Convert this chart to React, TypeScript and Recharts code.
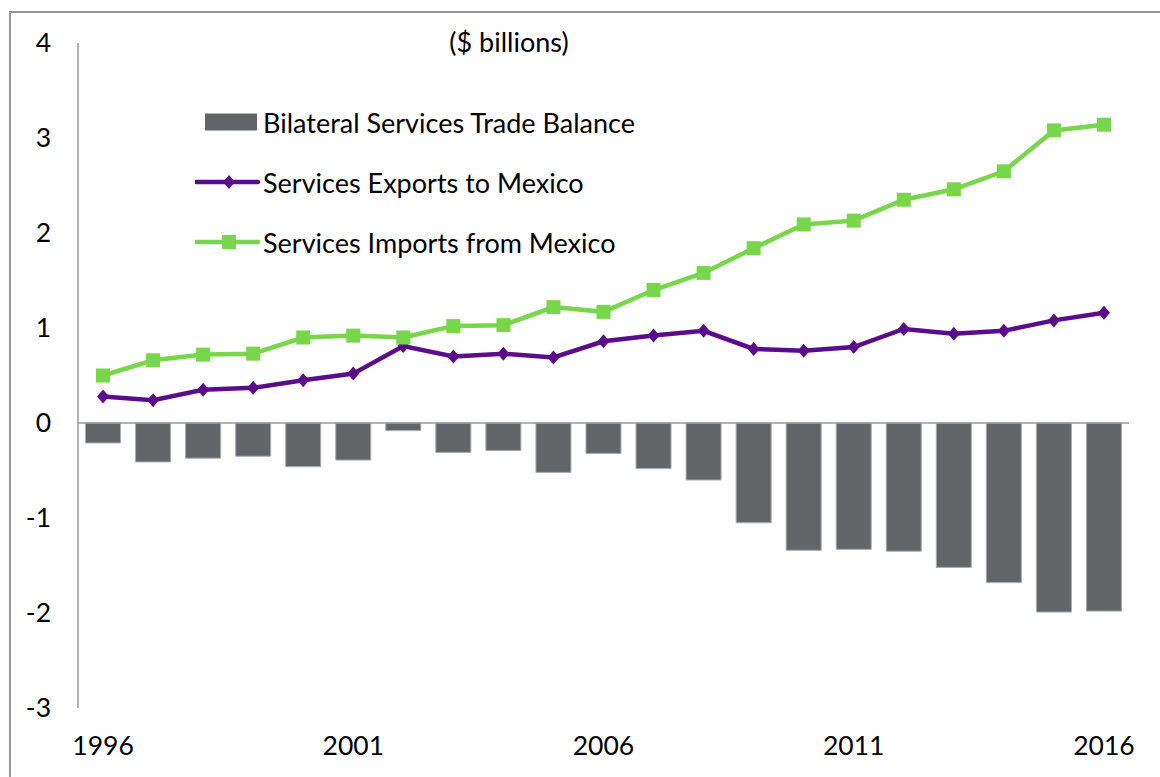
import React from "react";
import {
  ComposedChart,
  Bar,
  Line,
  XAxis,
  YAxis,
  ReferenceLine,
  Legend,
} from "recharts";

const years = [
  "1996", "1997", "1998", "1999", "2000", "2001", "2002", "2003", "2004", "2005",
  "2006", "2007", "2008", "2009", "2010", "2011", "2012", "2013", "2014", "2015", "2016",
];
const balance = [
  -0.21, -0.41, -0.37, -0.35, -0.46, -0.39, -0.08, -0.31, -0.29, -0.52,
  -0.32, -0.48, -0.6, -1.05, -1.34, -1.33, -1.35, -1.52, -1.68, -1.99, -1.98,
];
const exportsToMexico = [
  0.28, 0.24, 0.35, 0.37, 0.45, 0.52, 0.81, 0.7, 0.73, 0.69,
  0.86, 0.92, 0.97, 0.78, 0.76, 0.8, 0.99, 0.94, 0.97, 1.08, 1.16,
];
const importsFromMexico = [
  0.5, 0.66, 0.72, 0.73, 0.9, 0.92, 0.9, 1.02, 1.03, 1.22,
  1.17, 1.4, 1.58, 1.84, 2.09, 2.13, 2.35, 2.46, 2.65, 3.08, 3.14,
];
const yTicks = [-3, -2, -1, 0, 1, 2, 3, 4];

const seriesNames = {
  balance: "Bilateral Services Trade Balance",
  exp: "Services Exports to Mexico",
  imp: "Services Imports from Mexico",
};

const BAR = "#636569";
const PURPLE = "#5b0c8b";
const GREEN = "#78d64b";
const AXIS = "#9a9a9a";
const FONT = "Lato, 'Open Sans', sans-serif";
const AXIS_FS = 26.5;
const TEXT_FS = 27;

const data = years.map((y, i) => ({
  year: y,
  balance: balance[i],
  exp: exportsToMexico[i],
  imp: importsFromMexico[i],
}));

const DiamondDot = (props: any) => {
  const { cx, cy, index } = props;
  if (cx == null || cy == null) return <g key={`d${index}`} />;
  return (
    <path
      key={`d${index}`}
      d={`M${cx},${cy - 7} L${cx + 6},${cy} L${cx},${cy + 7} L${cx - 6},${cy} Z`}
      fill={PURPLE}
    />
  );
};

const SquareDot = (props: any) => {
  const { cx, cy, index } = props;
  if (cx == null || cy == null) return <g key={`s${index}`} />;
  return <rect key={`s${index}`} x={cx - 7} y={cy - 7} width={14} height={14} fill={GREEN} />;
};

const LegendContent = () => {
  const row: React.CSSProperties = {
    display: "flex",
    alignItems: "center",
    height: 60,
    whiteSpace: "nowrap",
  };
  const txt: React.CSSProperties = {
    fontFamily: FONT,
    fontSize: TEXT_FS,
    color: "#000",
  };
  return (
    <div>
      <div style={row}>
        <svg width={68} height={60}>
          <rect x={10} y={21.5} width={52} height={17} fill={BAR} />
        </svg>
        <span style={txt}>{seriesNames.balance}</span>
      </div>
      <div style={row}>
        <svg width={68} height={60}>
          <line x1={1} y1={30} x2={63} y2={30} stroke={PURPLE} strokeWidth={4.5} strokeLinecap="round" />
          <path d="M34,23 L40,30 L34,37 L28,30 Z" fill={PURPLE} />
        </svg>
        <span style={txt}>{seriesNames.exp}</span>
      </div>
      <div style={row}>
        <svg width={68} height={60}>
          <line x1={1} y1={30} x2={63} y2={30} stroke={GREEN} strokeWidth={4.5} strokeLinecap="round" />
          <rect x={27} y={23} width={14} height={14} fill={GREEN} />
        </svg>
        <span style={txt}>{seriesNames.imp}</span>
      </div>
    </div>
  );
};

export default function App() {
  return (
    <div style={{ position: "absolute", left: 0, top: 0, width: 1160, height: 777, background: "#fff", overflow: "hidden" }}>
      <div
        style={{
          position: "absolute",
          left: 9,
          top: 11,
          width: 1160,
          height: 777,
          borderLeft: `2px solid #959595`,
          borderTop: `2px solid #959595`,
        }}
      />
      <div
        style={{
          position: "absolute",
          left: 0,
          top: 26,
          width: 1018,
          textAlign: "center",
          fontFamily: FONT,
          fontSize: TEXT_FS,
          lineHeight: "32px",
          color: "#000",
        }}
      >
        ($ billions)
      </div>
      <ComposedChart
        width={1160}
        height={777}
        data={data}
        margin={{ top: 43, right: 31, bottom: 29, left: 0 }}
        barCategoryGap="15%"
        style={{ position: "absolute", left: 0, top: 0 }}
      >
        <XAxis
          dataKey="year"
          interval={4}
          axisLine={false}
          tickLine={false}
          tickSize={0}
          tickMargin={28.5}
          height={40}
          tick={{ fill: "#000", fontSize: AXIS_FS, fontFamily: FONT }}
        />
        <YAxis
          type="number"
          domain={[-3, 4]}
          ticks={yTicks}
          width={78}
          axisLine={{ stroke: AXIS, strokeWidth: 1.5 }}
          tickLine={false}
          tickSize={0}
          tickMargin={27}
          tick={{ fill: "#000", fontSize: AXIS_FS, fontFamily: FONT }}
        />
        <Legend
          layout="vertical"
          align="center"
          verticalAlign="middle"
          wrapperStyle={{ left: 195, top: 92, width: 560, height: 180 }}
          content={<LegendContent />}
        />
        <Bar
          dataKey="balance"
          name={seriesNames.balance}
          fill={BAR}
          stroke="#a9abad"
          strokeWidth={1}
          isAnimationActive={false}
        />
        <ReferenceLine y={0} stroke={AXIS} strokeWidth={1.5} />
        <Line
          type="linear"
          dataKey="exp"
          name={seriesNames.exp}
          stroke={PURPLE}
          strokeWidth={4.5}
          dot={DiamondDot}
          activeDot={false}
          isAnimationActive={false}
        />
        <Line
          type="linear"
          dataKey="imp"
          name={seriesNames.imp}
          stroke={GREEN}
          strokeWidth={4.5}
          dot={SquareDot}
          activeDot={false}
          isAnimationActive={false}
        />
      </ComposedChart>
    </div>
  );
}
